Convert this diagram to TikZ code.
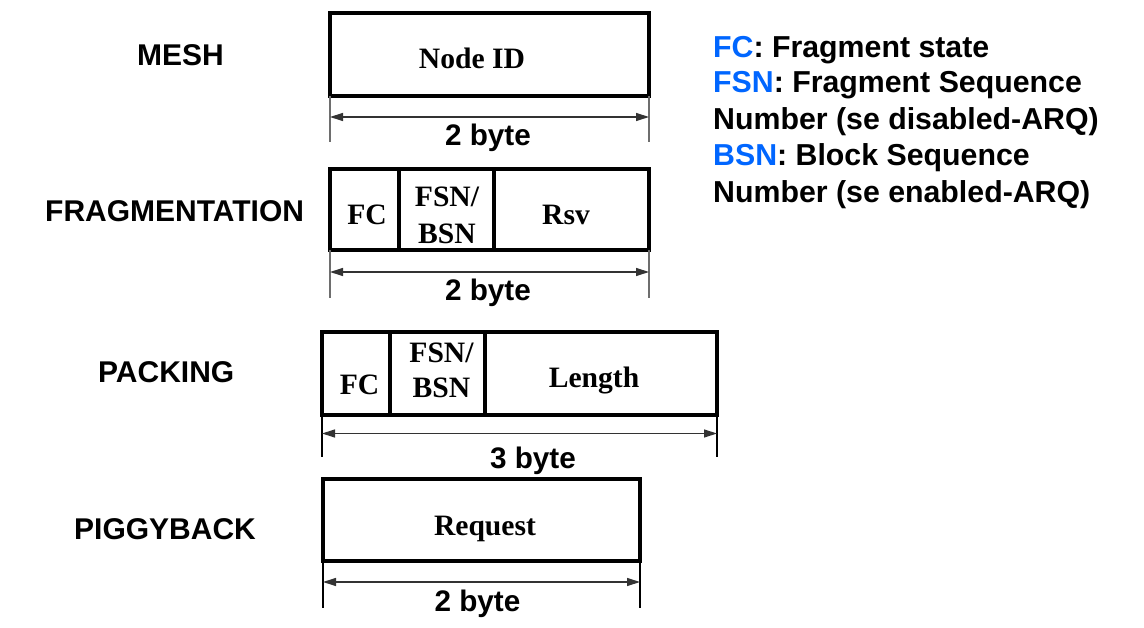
\documentclass[tikz,border=0pt]{standalone}
\usepackage{fontspec}
\setmainfont{Liberation Serif}
\newfontfamily\arialf{Liberation Sans}
\usetikzlibrary{arrows.meta}
\definecolor{legblue}{RGB}{0,102,255}
\definecolor{extgray}{RGB}{110,110,110}
\begin{document}
\begin{tikzpicture}[x=1pt,y=-1pt,
  field/.style={draw,line width=4pt,rectangle,inner sep=0pt,outer sep=0pt,anchor=north west},
  ftext/.style={font=\bfseries\fontsize{29.6}{36}\selectfont,inner sep=0pt,anchor=base},
  lab/.style={font=\arialf\bfseries\fontsize{30}{35}\selectfont,inner sep=0pt,anchor=base west},
  dimtext/.style={font=\arialf\bfseries\fontsize{29.7}{35}\selectfont,inner sep=0pt,anchor=base},
  leg/.style={font=\arialf\bfseries\fontsize{30.3}{36}\selectfont,inner sep=0pt,anchor=base west},
  extline/.style={draw=extgray,line width=1.2pt},
  dimline/.style={draw=black!80,line width=1.2pt,{Triangle[length=13pt,width=8pt]}-{Triangle[length=13pt,width=8pt]}}
]
\useasboundingbox (0,0) rectangle (1144,628);
\fill[white] (0,0) rectangle (1144,628);

% ---------- MESH ----------
\node[lab] (lmesh) at (137,66) {MESH};
\node[field,minimum width=319pt,minimum height=83pt] (mesh) at (330,13) {};
\node[ftext] (tmesh) at (472,69) {Node ID};
\coordinate (m1) at (330,142);
\coordinate (m2) at (649,142);
\draw[extline] (mesh.south west) -- (m1);
\draw[extline] (mesh.south east) -- (m2);
\coordinate (ma) at (330,117);
\coordinate (mb) at (649,117);
\draw[dimline] (ma) -- (mb);
\node[dimtext] (dmesh) at (488,146) {2 byte};

% ---------- FRAGMENTATION ----------
\node[lab] (lfrag) at (45,222) {FRAGMENTATION};
\node[field,minimum width=69pt,minimum height=81pt] (ffc) at (330,169) {};
\node[field,minimum width=95pt,minimum height=81pt] (ffsn) at (399,169) {};
\node[field,minimum width=155pt,minimum height=81pt] (frsv) at (494,169) {};
\node[ftext] (tffc) at (367,225) {FC};
\node[ftext] (tffsn1) at (447,207) {FSN/};
\node[ftext] (tffsn2) at (447,244) {BSN};
\node[ftext] (tfrsv) at (566,225) {Rsv};
\coordinate (f1) at (330,298);
\coordinate (f2) at (649,298);
\draw[extline] (ffc.south west) -- (f1);
\draw[extline] (frsv.south east) -- (f2);
\coordinate (fa) at (330,272);
\coordinate (fb) at (649,272);
\draw[dimline] (fa) -- (fb);
\node[dimtext] (dfrag) at (488,301) {2 byte};

% ---------- PACKING ----------
\node[lab] (lpack) at (98,382.5) {PACKING};
\node[field,minimum width=68pt,minimum height=83pt] (pfc) at (322,332) {};
\node[field,minimum width=95pt,minimum height=83pt] (pfsn) at (390,332) {};
\node[field,minimum width=232pt,minimum height=83pt] (plen) at (485,332) {};
\node[ftext] (tpfc) at (359.5,395) {FC};
\node[ftext] (tpfsn1) at (441.5,363) {FSN/};
\node[ftext] (tpfsn2) at (441.5,398) {BSN};
\node[ftext] (tplen) at (594,388) {Length};
\coordinate (p1) at (322,457);
\coordinate (p2) at (717,457);
\draw[extline,draw=black] (pfc.south west) -- (p1);
\draw[extline,draw=black] (plen.south east) -- (p2);
\coordinate (pa) at (322,433.5);
\coordinate (pb) at (717,433.5);
\draw[dimline] (pa) -- (pb);
\node[dimtext] (dpack) at (533,468) {3 byte};

% ---------- PIGGYBACK ----------
\node[lab] (lpig) at (74,539.5) {PIGGYBACK};
\node[field,minimum width=317pt,minimum height=82pt] (pig) at (323,479) {};
\node[ftext] (tpig) at (485,535) {Request};
\coordinate (g1) at (323,608);
\coordinate (g2) at (640,608);
\draw[extline,draw=black] (pig.south west) -- (g1);
\draw[extline,draw=black] (pig.south east) -- (g2);
\coordinate (ga) at (323,582);
\coordinate (gb) at (640,582);
\draw[dimline] (ga) -- (gb);
\node[dimtext] (dpig) at (477.5,611.5) {2 byte};

% ---------- Legend ----------
\node[leg] (l1) at (713,57.5) {\textcolor{legblue}{FC}: Fragment state};
\node[leg] (l2) at (713,93) {\textcolor{legblue}{FSN}: Fragment Sequence};
\node[leg] (l3) at (713,130) {Number (se disabled-ARQ)};
\node[leg] (l4) at (713,166) {\textcolor{legblue}{BSN}: Block Sequence};
\node[leg] (l5) at (713,203) {Number (se enabled-ARQ)};
\end{tikzpicture}
\end{document}
